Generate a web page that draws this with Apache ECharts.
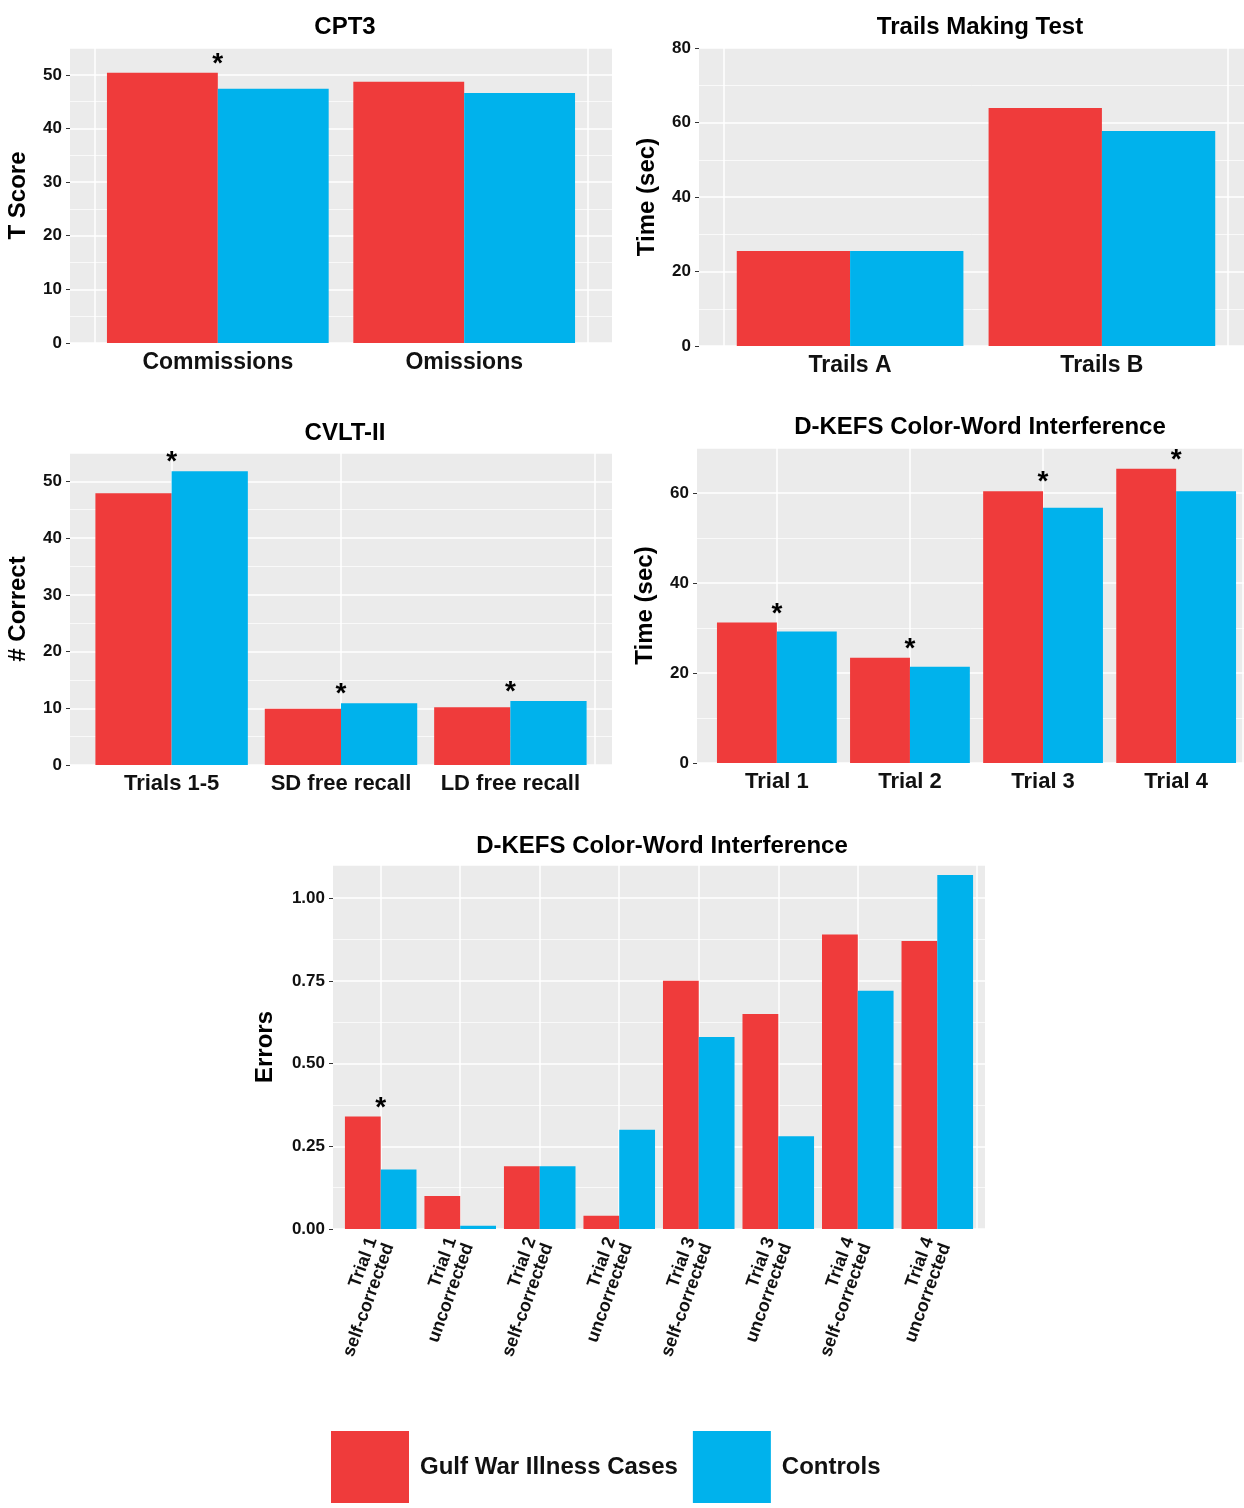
<!DOCTYPE html>
<html><head><meta charset="utf-8">
<script src="https://cdn.jsdelivr.net/npm/echarts@6/dist/echarts.min.js"></script>
<style>html,body{margin:0;background:#fff}#c{width:1244px;height:1508px}</style>
</head><body><div id="c"></div>
<script>
// data
const seriesNames = ['Gulf War Illness Cases', 'Controls'];
const cptCats = ['Commissions', 'Omissions'];
const cptCases = [50.4, 48.7];
const cptControls = [47.4, 46.6];
const trailsCats = ['Trails A', 'Trails B'];
const trailsCases = [25.5, 63.9];
const trailsControls = [25.5, 57.7];
const cvltCats = ['Trials 1-5', 'SD free recall', 'LD free recall'];
const cvltCases = [47.9, 9.9, 10.2];
const cvltControls = [51.8, 10.9, 11.3];
const cwTimeCats = ['Trial 1', 'Trial 2', 'Trial 3', 'Trial 4'];
const cwTimeCases = [31.2, 23.4, 60.4, 65.4];
const cwTimeControls = [29.2, 21.4, 56.7, 60.4];
const cwErrCats = ['Trial 1\nself-corrected', 'Trial 1\nuncorrected', 'Trial 2\nself-corrected', 'Trial 2\nuncorrected',
  'Trial 3\nself-corrected', 'Trial 3\nuncorrected', 'Trial 4\nself-corrected', 'Trial 4\nuncorrected'];
const cwErrCases = [0.34, 0.10, 0.19, 0.04, 0.75, 0.65, 0.89, 0.87];
const cwErrControls = [0.18, 0.01, 0.19, 0.30, 0.58, 0.28, 0.72, 1.07];
// significance markers (category index)
const cptSig = [0];
const cvltSig = [0, 1, 2];
const cwTimeSig = [0, 1, 2, 3];
const cwErrSig = [0];

const RED = '#EF3B3B', BLUE = '#00B2EC';
const FONT = 'Liberation Sans';
const chart = echarts.init(document.getElementById('c'));

const panels = [
  {title: 'CPT3', cats: cptCats, a: cptCases, b: cptControls, sig: cptSig, yname: 'T Score',
   grid: {left: 70, top: 48, width: 542, height: 295}, max: 55, interval: 10, tx: 340, ty: 10, xsize: 23},
  {title: 'Trails Making Test', cats: trailsCats, a: trailsCases, b: trailsControls, sig: [], yname: 'Time (sec)',
   grid: {left: 699, top: 48, width: 554, height: 298}, max: 80, interval: 20, tx: 975, ty: 10, xsize: 23},
  {title: 'CVLT-II', cats: cvltCats, a: cvltCases, b: cvltControls, sig: cvltSig, yname: '# Correct',
   grid: {left: 70, top: 453, width: 542, height: 312}, max: 55, interval: 10, tx: 340, ty: 416, xsize: 22},
  {title: 'D-KEFS Color-Word Interference', cats: cwTimeCats, a: cwTimeCases, b: cwTimeControls, sig: cwTimeSig, yname: 'Time (sec)',
   grid: {left: 697, top: 448, width: 559, height: 315}, max: 70, interval: 20, tx: 975, ty: 410, xsize: 22},
  {title: 'D-KEFS Color-Word Interference', cats: cwErrCats, a: cwErrCases, b: cwErrControls, sig: cwErrSig, yname: 'Errors',
   grid: {left: 333, top: 865, width: 652, height: 364}, max: 1.1, interval: 0.25, tx: 657, ty: 829, xsize: 18, rot: 70, fmt: v => v.toFixed(2)}
];

const option = {backgroundColor: '#fff', textStyle: {fontFamily: FONT}, animation: false,
  title: [], grid: [], xAxis: [], yAxis: [], series: [],
  legend: {data: seriesNames, bottom: 0, left: 326, itemWidth: 78, itemHeight: 72, itemGap: 15,
    icon: 'rect', textStyle: {fontSize: 24, fontWeight: 'bold', color: '#111', padding: [0, 0, 0, 6], width: 285}}
};

panels.forEach((p) => {
  const g = p.grid, n = p.cats.length;
  const u = g.width / (n + 0.2); // ggplot-style 0.6 unit expansion at each side
  option.title.push({text: p.title, left: p.tx, top: p.ty, textAlign: 'center',
    textStyle: {fontSize: 24, fontWeight: 'bold', color: '#000', fontFamily: FONT}});
  // outer panel: background, y axis
  const go = option.grid.length;
  option.grid.push(Object.assign({show: true, backgroundColor: '#EBEBEB', borderWidth: 0}, g));
  option.grid.push({left: g.left + 0.1 * u, top: g.top, width: g.width - 0.2 * u, height: g.height});
  const gi = go + 1;
  option.xAxis.push({type: 'value', gridIndex: go, show: false, splitLine: {show: false}});
  option.yAxis.push({type: 'value', gridIndex: go, min: 0, max: p.max, interval: p.interval,
    name: p.yname, nameLocation: 'middle', nameGap: p.fmt ? 56 : 40,
    nameTextStyle: {fontSize: 24, fontWeight: 'bold', color: '#000'},
    axisLine: {show: false}, axisTick: {show: true, length: 4, lineStyle: {color: '#333'}},
    axisLabel: {fontSize: 17, fontWeight: 'bold', color: '#111', showMaxLabel: p.max % p.interval === 0, formatter: p.fmt},
    splitLine: {lineStyle: {color: '#fff', width: 1.5}},
    minorTick: {show: false, splitNumber: 2}, minorSplitLine: {show: true, lineStyle: {color: '#fff', width: 0.7}}});
  // inner grid: bars
  option.xAxis.push({type: 'category', gridIndex: gi, position: 'top', data: new Array(n * 2).fill(''),
    axisLine: {show: false}, axisTick: {show: false}, axisLabel: {show: false},
    splitLine: {show: true, interval: (idx) => idx % 2 === 1 && idx < n * 2 - 1, lineStyle: {color: '#fff', width: 1.5}}});
  option.xAxis.push({type: 'category', gridIndex: gi, position: 'bottom', data: p.cats,
    axisLine: {show: false}, axisTick: {alignWithLabel: true, length: 4, lineStyle: {color: '#333'}},
    axisLabel: {interval: 0, fontSize: p.xsize, fontWeight: 'bold', color: '#111', rotate: p.rot || 0, margin: p.rot ? 12 : 8},
    splitLine: {show: false}});
  const xi = option.xAxis.length - 1;
  const yi = option.yAxis.length;
  option.yAxis.push({type: 'value', gridIndex: gi, min: 0, max: p.max, show: false, splitLine: {show: false}});
  option.series.push({name: seriesNames[0], type: 'bar', xAxisIndex: xi, yAxisIndex: yi, data: p.a,
    itemStyle: {color: RED}, barGap: 0, barCategoryGap: '10%'});
  option.series.push({name: seriesNames[1], type: 'bar', xAxisIndex: xi, yAxisIndex: yi, data: p.b,
    itemStyle: {color: BLUE}, barGap: 0, barCategoryGap: '10%'});
  option.series.push({name: 'sig', type: 'scatter', xAxisIndex: xi, yAxisIndex: yi, symbolSize: 1, silent: true,
    itemStyle: {color: 'rgba(0,0,0,0)', opacity: 1},
    data: p.cats.map((c, k) => p.sig.includes(k) ? Math.max(p.a[k], p.b[k]) : null),
    label: {show: true, position: 'top', formatter: '*', fontSize: 28, fontWeight: 'bold', color: '#000', distance: -6}});
});

chart.setOption(option);
</script></body></html>
